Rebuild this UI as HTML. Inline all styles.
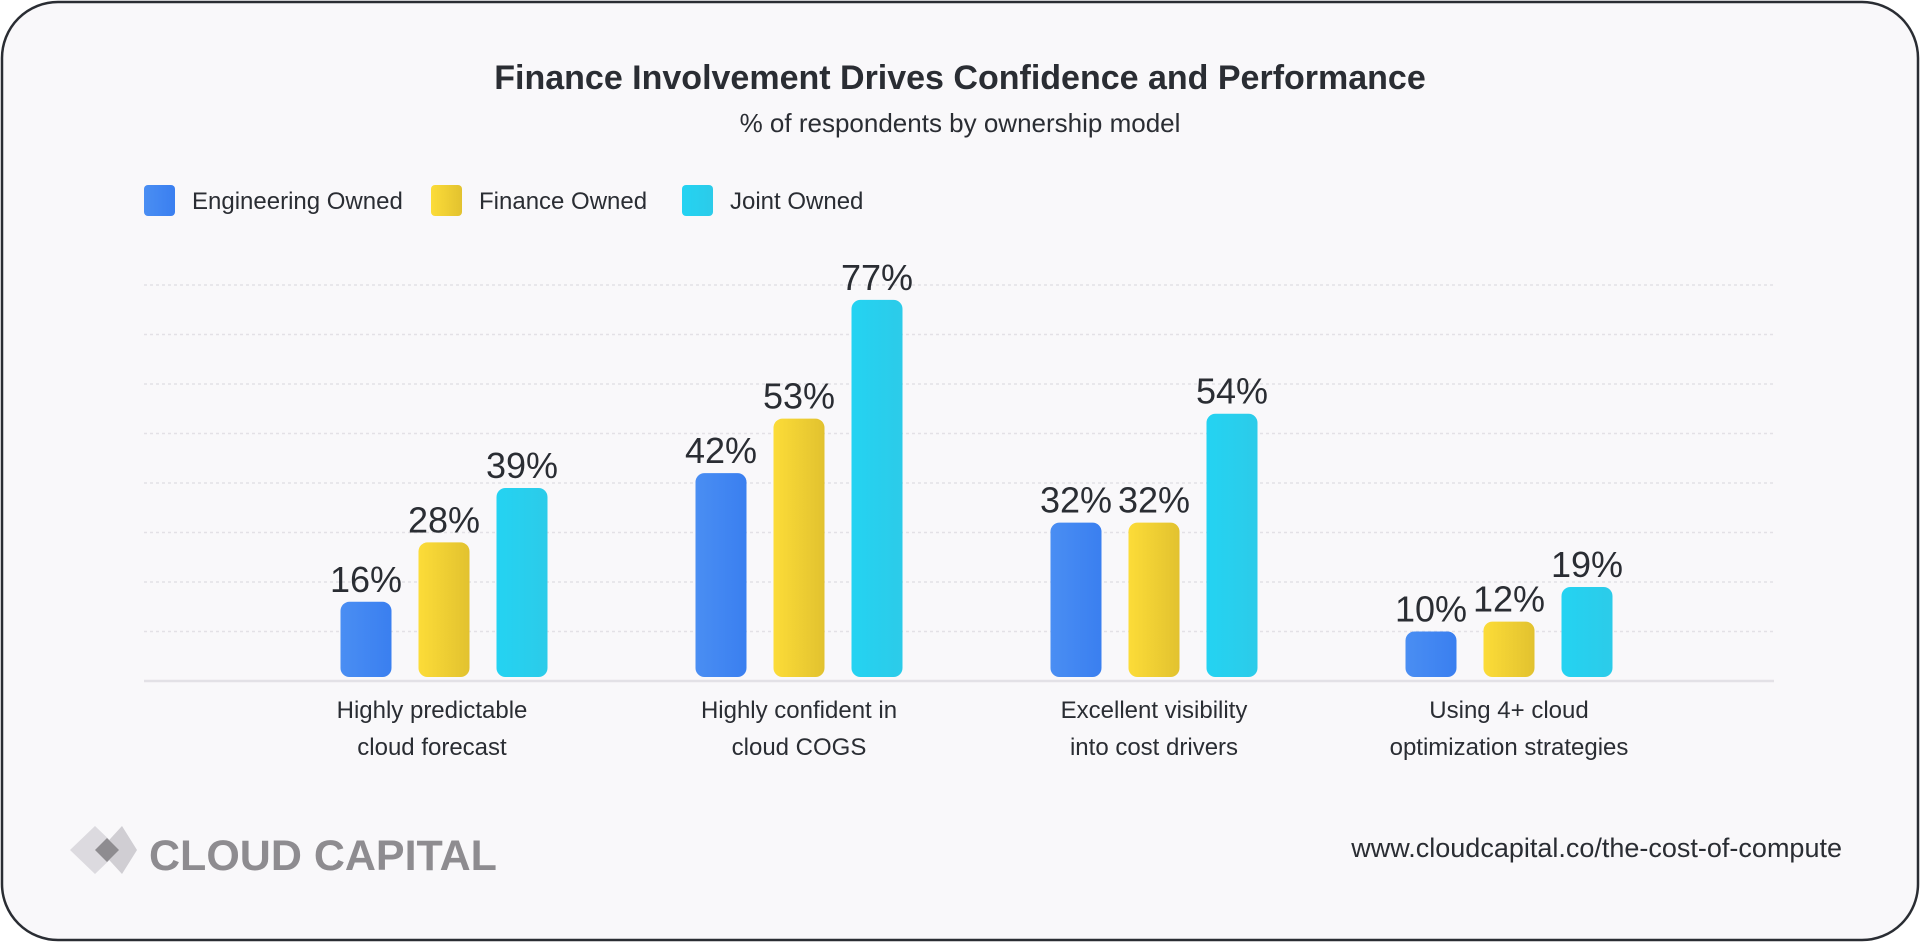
<!DOCTYPE html>
<html><head><meta charset="utf-8"><style>
html,body{margin:0;padding:0;background:#fff;}
body{width:1920px;height:942px;overflow:hidden;font-family:"Liberation Sans","DejaVu Sans",sans-serif;}
</style></head><body>
<svg id="chart" width="1920" height="942" xmlns="http://www.w3.org/2000/svg">
<defs>
<linearGradient id="gBlue" x1="0" x2="1" y1="0" y2="0"><stop offset="0" stop-color="#4a8ef3"/><stop offset="1" stop-color="#3a7ff0"/></linearGradient>
<linearGradient id="gYel" x1="0" x2="1" y1="0" y2="0"><stop offset="0" stop-color="#fcdc38"/><stop offset="1" stop-color="#e2c22f"/></linearGradient>
<linearGradient id="gCyan" x1="0" x2="1" y1="0" y2="0"><stop offset="0" stop-color="#24d3f2"/><stop offset="1" stop-color="#2ccbe9"/></linearGradient>
</defs>
<rect x="2" y="2" width="1916" height="938" rx="56" fill="#f9f8fa" stroke="#2a2d33" stroke-width="2.5"/>
<text x="960" y="89" text-anchor="middle" font-size="34" font-weight="bold" fill="#2a2d33">Finance Involvement Drives Confidence and Performance</text>
<text x="960" y="132" text-anchor="middle" font-size="26" fill="#2a2d33">% of respondents by ownership model</text>
<g id="legend"></g>
<g id="grid"></g>
<g id="bars"></g>
<g id="cats"></g>
<g>
<polygon points="70,850 95,826 120,850 95,874" fill="#dcdadf"/>
<polygon points="100,850 122,826 137,850 122,874" fill="#d0ced3"/>
<polygon points="95,850 107,838 119,850 107,862" fill="#8e8c90"/>
<text x="149" y="870" font-size="43" font-weight="bold" fill="#8e8c90">CLOUD CAPITAL</text>
</g>
<text x="1842" y="857" text-anchor="end" font-size="27" fill="#2a2d33">www.cloudcapital.co/the-cost-of-compute</text>
</svg>
<script>
const categories=[["Highly predictable","cloud forecast"],["Highly confident in","cloud COGS"],["Excellent visibility","into cost drivers"],["Using 4+ cloud","optimization strategies"]];
const seriesNames=["Engineering Owned","Finance Owned","Joint Owned"];
const engineering=[16,42,32,10];
const finance=[28,53,32,12];
const joint=[39,77,54,19];
const gridTicks=[10,20,30,40,50,60,70,80];
const NS="http://www.w3.org/2000/svg";
const fills=["url(#gBlue)","url(#gYel)","url(#gCyan)"];
const series=[engineering,finance,joint];
const base=681,perPct=4.95,left=144,right=1774;
function y(v){return base-v*perPct;}
function xc(i){return 444+i*355;}
function mk(tag,attrs,parent){const e=document.createElementNS(NS,tag);for(const k in attrs)e.setAttribute(k,attrs[k]);parent.appendChild(e);return e;}
const grid=document.getElementById('grid');
gridTicks.forEach(t=>{const l=mk('line',{x1:left,x2:right,y1:y(t),y2:y(t),stroke:'#e3e1e6','stroke-width':1.5,'stroke-dasharray':'3 3'},grid);

});
const bl=mk('line',{x1:left,x2:right,y1:base,y2:base,stroke:'#e3e1e6','stroke-width':2.5},grid);


const lg=document.getElementById('legend');
const lgX=[144,431,682];
seriesNames.forEach((n,s)=>{const r=mk('rect',{x:lgX[s],y:185,width:31,height:31,rx:4,fill:fills[s]},lg);


const t=mk('text',{x:lgX[s]+48,y:209,'font-size':24,fill:'#2a2d33'},lg);t.textContent=n;

});
const bars=document.getElementById('bars');
const bw=51,gap=78;
categories.forEach((c,i)=>{series.forEach((ser,s)=>{const v=ser[i];const cx=xc(i)+(s-1)*gap;
const r=mk('rect',{x:cx-bw/2,y:y(v),width:bw,height:base-4-y(v),rx:9,fill:fills[s]},bars);


const t=mk('text',{x:cx,y:y(v)-10,'text-anchor':'middle','font-size':36,fill:'#2a2d33'},bars);t.textContent=v+'%';

});
const cg=document.getElementById('cats');
c.forEach((line,k)=>{const t=mk('text',{x:xc(i)-(i==0?12:0),y:718+k*37,'text-anchor':'middle','font-size':24,fill:'#2a2d33'},cg);t.textContent=line;

});});
</script>
</body></html>
